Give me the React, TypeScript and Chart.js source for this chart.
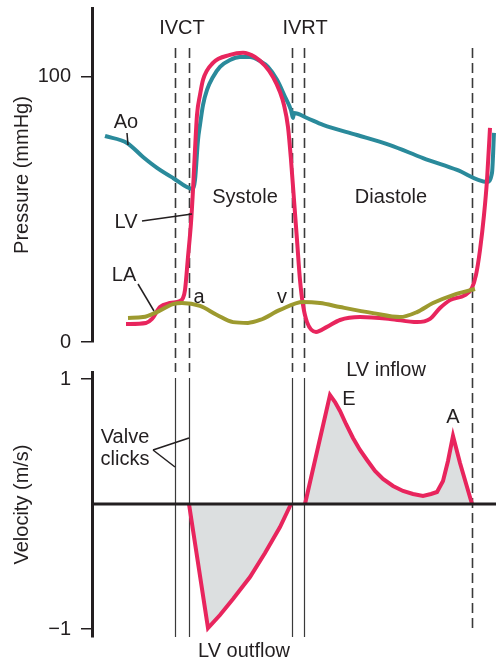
import React, { useEffect, useRef } from "react";
import { Chart, registerables } from "chart.js";

Chart.register(...registerables);

const FONT = '"Liberation Sans", Arial, Helvetica, sans-serif';
const INK = "#231f20";
const GUIDE = "#3a3a3a";
const TEAL = "#2a8a9b";
const PINK = "#e8255d";
const OLIVE = "#9d9a2f";
const FILL = "#dcdfe0";

// Time axis (ms within one cardiac cycle)
const T_MIN = 0;
const T_MAX = 808;

// Pressure axis
const P_MIN = 0;
const P_MAX = 126;
const P_TICKS = [0, 100];

// Velocity axis
const V_MIN = -1.064;
const V_MAX = 1.056;
const V_TICKS = [-1, 1];

// Timing markers (ms)
const IVCT = [166, 194];
const IVRT = [400, 424];
const END_DIASTOLE = 760;

// Aortic pressure (mmHg)
const aoT = [26, 70, 102, 130, 162, 202, 206, 212, 216, 222, 230, 242, 256, 276, 296, 316, 336, 352, 370, 386, 398, 402, 404, 430, 462, 530, 596, 662, 730, 790, 800, 804];
const aoP = [77.7, 75.1, 69.8, 65.7, 61.9, 57.7, 61.1, 76.2, 81.9, 89.4, 95.1, 100, 103.8, 106.4, 107.5, 107.5, 106, 103.8, 98.9, 92.5, 87.5, 84.5, 86.4, 84.5, 81.9, 78.1, 74.3, 69.4, 64.9, 60.4, 63.8, 78.9];

// Left ventricular pressure (mmHg)
const lvT = [68, 108, 120, 136, 156, 176, 182, 186, 192, 198, 202, 206, 210, 216, 222, 242, 276, 302, 326, 346, 362, 376, 384, 392, 398, 404, 410, 416, 422, 430, 448, 470, 496, 536, 596, 650, 676, 696, 716, 746, 760, 768, 776, 784, 790, 796];
const lvP = [6.8, 7.2, 8.7, 13.2, 14.7, 15.5, 16.6, 19.6, 32.1, 44.9, 57.4, 72.5, 85.7, 93.2, 98.9, 105.3, 108.3, 109.1, 107.5, 104.2, 100, 94.3, 89.4, 81.1, 68.7, 53.6, 38.5, 23.4, 14, 7.5, 3.8, 5.7, 8.3, 9.4, 8.7, 7.5, 8.7, 12.8, 15.8, 17.7, 20.4, 25.3, 34.7, 47.9, 61.1, 80.8];

// Left atrial pressure (mmHg)
const laT = [72, 102, 130, 162, 180, 216, 250, 282, 312, 336, 376, 422, 456, 496, 562, 616, 650, 682, 722, 766];
const laP = [9.1, 9.4, 11.3, 14.3, 14.7, 13.6, 10.2, 7.5, 7.2, 8.3, 12.1, 15.1, 14.7, 13.2, 10.9, 9.4, 11.3, 14.7, 17.7, 20];

// LV outflow velocity (m/s)
const outT = [194, 232, 256, 282, 316, 346, 376, 398];
const outV = [0, -0.992, -0.888, -0.76, -0.584, -0.392, -0.184, 0];

// LV inflow velocity (m/s)
const inT = [426, 476, 486, 496, 508, 522, 536, 550, 566, 582, 602, 622, 642, 662, 678, 690, 702, 712, 722, 736, 760];
const inV = [0, 0.872, 0.816, 0.744, 0.64, 0.528, 0.432, 0.352, 0.264, 0.2, 0.144, 0.104, 0.08, 0.064, 0.08, 0.096, 0.184, 0.344, 0.544, 0.328, 0];

// Zero-velocity baseline
const baseT = [T_MIN, T_MAX];
const baseV = [0, 0];

const pts = (xs: number[], ys: number[]) => xs.map((x, i) => ({ x, y: ys[i] }));

function label(ctx: CanvasRenderingContext2D, s: string, x: number, y: number, align: CanvasTextAlign = "center") {
  ctx.save();
  ctx.font = `20px ${FONT}`;
  ctx.fillStyle = INK;
  ctx.textAlign = align;
  ctx.textBaseline = "alphabetic";
  ctx.fillText(s, x, y);
  ctx.restore();
}

function seg(ctx: CanvasRenderingContext2D, x1: number, y1: number, x2: number, y2: number, w = 1.5, color = INK, dash: number[] = []) {
  ctx.save();
  ctx.strokeStyle = color;
  ctx.lineWidth = w;
  ctx.setLineDash(dash);
  ctx.beginPath();
  ctx.moveTo(x1, y1);
  ctx.lineTo(x2, y2);
  ctx.stroke();
  ctx.restore();
}

const pressurePlugin = {
  id: "pressureDecor",
  beforeDatasetsDraw(chart: any) {
    const { ctx } = chart;
    const xs = chart.scales.x;
    [...IVCT, ...IVRT].forEach((t) => {
      const px = Math.round(xs.getPixelForValue(t)) + 0.5;
      seg(ctx, px, 48, px, 372, 1.6, GUIDE, [10, 5]);
    });
    const pe = Math.round(xs.getPixelForValue(END_DIASTOLE)) + 0.5;
    seg(ctx, pe, 48, pe, 628, 1.6, GUIDE, [10, 5]);
  },
  afterDraw(chart: any) {
    const { ctx } = chart;
    label(ctx, "IVCT", 182, 34);
    label(ctx, "IVRT", 305, 34);
    label(ctx, "Ao", 126, 128);
    seg(ctx, 127, 133, 128, 145, 1.5);
    label(ctx, "Systole", 245, 203);
    label(ctx, "Diastole", 391, 203);
    label(ctx, "LV", 126, 228);
    seg(ctx, 142, 221, 192, 214, 1.5);
    label(ctx, "LA", 124, 281);
    seg(ctx, 138, 284, 154, 311, 1.5);
    label(ctx, "a", 199, 303);
    label(ctx, "v", 282, 303);
  },
};

const velocityPlugin = {
  id: "velocityDecor",
  beforeDatasetsDraw(chart: any) {
    const { ctx } = chart;
    const xs = chart.scales.x;
    [...IVCT, ...IVRT].forEach((t) => {
      const px = Math.round(xs.getPixelForValue(t)) + 0.5;
      seg(ctx, px, 378, px, 637, 1.2, GUIDE);
    });
  },
  afterDraw(chart: any) {
    const { ctx } = chart;
    label(ctx, "LV inflow", 386, 376);
    label(ctx, "E", 349, 405);
    label(ctx, "A", 453, 423);
    label(ctx, "Valve", 125, 443);
    label(ctx, "clicks", 125, 465);
    seg(ctx, 153, 450, 189, 438, 1.5);
    seg(ctx, 153, 450, 175, 467, 1.5);
    label(ctx, "LV outflow", 244, 657);
  },
};

const tickFont = { family: FONT, size: 20 };

export default function App() {
  const topRef = useRef<HTMLCanvasElement | null>(null);
  const botRef = useRef<HTMLCanvasElement | null>(null);

  useEffect(() => {
    if (!topRef.current || !botRef.current) return;

    const lineDs = (lbl: string, data: any[], color: string) => ({
      label: lbl,
      data,
      borderColor: color,
      borderWidth: 4,
      pointRadius: 0,
      fill: false,
      cubicInterpolationMode: "monotone" as const,
    });

    const top = new Chart(topRef.current, {
      type: "line",
      data: {
        datasets: [
          { ...lineDs("LA", pts(laT, laP), OLIVE), order: 0 },
          { ...lineDs("LV", pts(lvT, lvP), PINK), order: 1 },
          { ...lineDs("Ao", pts(aoT, aoP), TEAL), order: 2 },
        ],
      },
      options: {
        responsive: false,
        animation: false,
        events: [],
        layout: { padding: { top: 8, bottom: 319, left: 0, right: 0 } },
        plugins: { legend: { display: false }, tooltip: { enabled: false } },
        scales: {
          x: { type: "linear", min: T_MIN, max: T_MAX, display: false },
          y: {
            type: "linear",
            min: P_MIN,
            max: P_MAX,
            afterBuildTicks: (s: any) => {
              s.ticks = P_TICKS.map((v) => ({ value: v }));
            },
            afterFit: (s: any) => {
              s.width = 92;
              s.paddingTop = 0;
              s.paddingBottom = 0;
            },
            ticks: { font: tickFont, color: INK, padding: 10 },
            grid: { drawOnChartArea: false, drawTicks: true, tickLength: 11, color: INK, lineWidth: 1.5 },
            border: { display: true, color: INK, width: 3 },
            title: { display: true, text: "Pressure (mmHg)", font: tickFont, color: INK, padding: { top: 10, bottom: 0 } },
          },
        },
      },
      plugins: [pressurePlugin],
    } as any);

    const bot = new Chart(botRef.current, {
      type: "line",
      data: {
        datasets: [
          { label: "baseline", data: pts(baseT, baseV), borderColor: INK, borderWidth: 3, pointRadius: 0, fill: false, order: 0 },
          { label: "LV outflow", data: pts(outT, outV), borderColor: PINK, borderWidth: 4, pointRadius: 0, tension: 0, fill: "origin", backgroundColor: FILL, order: 1 },
          { label: "LV inflow", data: pts(inT, inV), borderColor: PINK, borderWidth: 4, pointRadius: 0, tension: 0, fill: "origin", backgroundColor: FILL, order: 1 },
        ],
      },
      options: {
        responsive: false,
        animation: false,
        events: [],
        layout: { padding: { top: 372, bottom: 24, left: 0, right: 0 } },
        plugins: { legend: { display: false }, tooltip: { enabled: false } },
        scales: {
          x: { type: "linear", min: T_MIN, max: T_MAX, display: false },
          y: {
            type: "linear",
            min: V_MIN,
            max: V_MAX,
            afterBuildTicks: (s: any) => {
              s.ticks = V_TICKS.map((v) => ({ value: v }));
            },
            afterFit: (s: any) => {
              s.width = 92;
              s.paddingTop = 0;
              s.paddingBottom = 0;
            },
            ticks: {
              font: tickFont,
              color: INK,
              padding: 10,
              callback: (v: any) => (Number(v) < 0 ? "\u2212" + Math.abs(Number(v)) : String(v)),
            },
            grid: { drawOnChartArea: false, drawTicks: true, tickLength: 11, color: INK, lineWidth: 1.5 },
            border: { display: true, color: INK, width: 3 },
            title: { display: true, text: "Velocity (m/s)", font: tickFont, color: INK, padding: { top: 10, bottom: 0 } },
          },
        },
      },
      plugins: [velocityPlugin],
    } as any);

    return () => {
      top.destroy();
      bot.destroy();
    };
  }, []);

  const cs: React.CSSProperties = { position: "absolute", left: 0, top: 0, width: 496, height: 661 };
  return (
    <div style={{ position: "absolute", left: 0, top: 0, width: 496, height: 661, background: "#fff" }}>
      <canvas ref={topRef} width={496} height={661} style={cs} />
      <canvas ref={botRef} width={496} height={661} style={cs} />
    </div>
  );
}
